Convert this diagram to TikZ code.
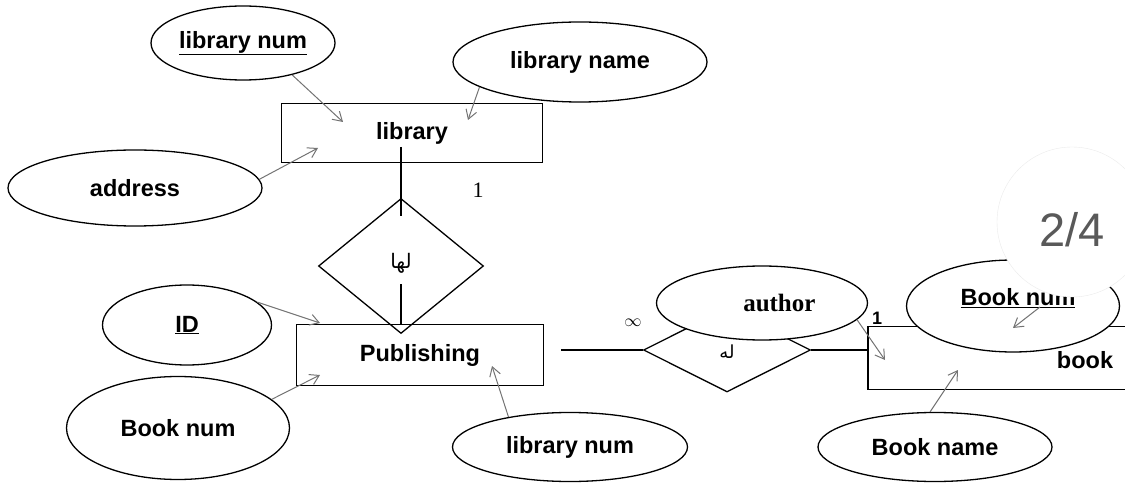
\documentclass[tikz,border=0pt]{standalone}
\usepackage{fontspec}
\setmainfont{Liberation Sans}
\newfontfamily\serifer{Liberation Serif}
\newfontfamily\arabicfont[Script=Arabic]{DejaVu Sans}
\TeXXeTstate=1
\usetikzlibrary{shapes.geometric,arrows.meta}

\tikzset{
	attr/.style={draw,ellipse,line width=1.3pt,fill=white,inner sep=0pt,font=\bfseries\fontsize{23.5}{23.5}\selectfont},
	entity/.style={draw,rectangle,line width=1.3pt,inner sep=0pt,font=\bfseries\fontsize{23.5}{23.5}\selectfont},
	rel/.style={draw,diamond,line width=1.3pt,inner sep=0pt},
	link/.style={draw=black!55,line width=1pt,-{Straight Barb[length=9pt,width=11pt]}},
	card/.style={font=\serifer\fontsize{22}{22}\selectfont}
}

\begin{document}
\begin{tikzpicture}[x=1pt,y=-1pt]
			\useasboundingbox (0,0) rectangle (1125,489);

			% library side
			\node [entity,minimum width=261,minimum height=59] (lib) at (412,133) {library};
			\node [attr,minimum width=184,minimum height=74] (lnum) at (243,43) {\underline{library num}};
			\node [attr,minimum width=254,minimum height=80] (lname) at (580,62) {library name};
			\node [attr,minimum width=254,minimum height=76] (addr) at (135,188) {address};
			\node [card] (one1) at (478,190) {1};

			% publishing side
			\node [rel,minimum width=165,minimum height=135] (dia1) at (401,266) {};
			\node [entity,minimum width=247,minimum height=61] (pub) at (420,355) {Publishing};
			\draw [line width=1.3pt] ([yshift=-14pt]lib.center -| dia1) -- (pub.north -| dia1);
			\node [fill=white,inner sep=0pt,minimum height=68,minimum width=30] (gap1) at (401,250) {};
			\node [font=\arabicfont\fontsize{20}{20}\selectfont] (has1) at (401,263) {\beginR لها\endR};
			\node [attr,minimum width=169,minimum height=80] (id) at (187,325) {\underline{ID}};
			\node [attr,minimum width=223,minimum height=103] (bnuml) at (178,428) {Book num};
			\node [attr,minimum width=235,minimum height=69] (lnumb) at (570,447) {library num};

			% book side
			\node [rel,minimum width=167,minimum height=84] (dia2) at (727,350) {};
			\draw [line width=1.3pt] ([xshift=17pt]pub.east |- dia2) -- (dia2.west);
			\node [card,font=\serifer\fontsize{18}{18}\selectfont] (many) at (633,323) {$\infty$};
			\node [font=\arabicfont\fontsize{18}{18}\selectfont] (has2) at (727,352) {\beginR له\endR};
			\node [attr,minimum width=211,minimum height=74,font=\serifer\bfseries\fontsize{25}{25}\selectfont] (author) at (762,303) {\hphantom{aut}author};
			\node [entity,minimum width=272,minimum height=63] (book) at (1004,358) {};
			\draw [line width=1.3pt] (dia2.east) -- (dia2.east -| book.west);
			\node [font=\bfseries\fontsize{23.5}{23.5}\selectfont] (booklbl) at (1085,360) {book};
			\node [card,font=\bfseries\fontsize{18}{18}\selectfont] (one2) at (877,318) {1};
			\node [attr,minimum width=213,minimum height=92] (bnumr) at (1013,306) {};
			\node [font=\bfseries\fontsize{23.5}{23.5}\selectfont] (bnumlbl) at (1018,298) {\underline{Book num}};
			\node [attr,minimum width=234,minimum height=69] (bname) at (935,447) {Book name};

			% arrow tips
			\coordinate (tip1) at (343,122);
			\coordinate (tip2) at (468,120);
			\coordinate (tip3) at (318,148);
			\coordinate (tip4) at (320,323);
			\coordinate (tip5) at (320,375);
			\coordinate (tip6) at (492,366);
			\coordinate (tip7) at (885,360);
			\coordinate (tail8) at (1040,307);
			\coordinate (tip8) at (1013,328);
			\coordinate (tip9) at (958,370);

			\draw [link] (lnum.-33) -- (tip1);
			\draw [link] (lname.-166) -- (tip2);
			\draw [link] (addr.4) -- (tip3);
			\draw [link] (id.18) -- (tip4);
			\draw [link] (bnuml.17) -- (tip5);
			\draw [link] (lnumb.154) -- (tip6);
			\draw [link] (author.-10) -- (tip7);
			\draw [link] (tail8) -- (tip8);
			\draw [link] (bname.98) -- (tip9);

			% page badge
			\node [circle,fill=white,draw=black!8,minimum size=150,inner sep=0pt] (badge) at (1072,222) {};
			\node [text=black!65,font=\fontsize{47}{47}\selectfont] (pagenum) at (1072,230) {2/4};
\end{tikzpicture}
\end{document}
